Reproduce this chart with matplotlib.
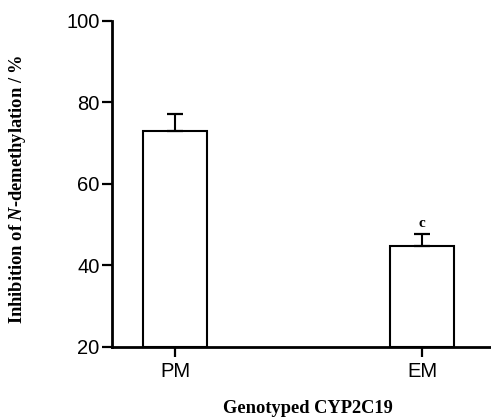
import numpy as np
import matplotlib.pyplot as plt

plt.rcParams["mathtext.fontset"] = "custom"
plt.rcParams["mathtext.it"] = "Liberation Serif:italic:bold"
plt.rcParams["mathtext.rm"] = "Liberation Serif:bold"

# genotype groups and mean inhibition (%)
groups = ["PM", "EM"]
means = [73.0, 44.8]
errs = [4.2, 2.8]
marks = ["", "c"]

fig = plt.figure(figsize=(4.91, 4.19), dpi=100)
ax = fig.add_axes([0.228, 0.172, 0.772, 0.778])

x = np.arange(len(groups))
ax.bar(x, np.array(means) - 20, bottom=20, width=0.26, color="white",
       edgecolor="black", linewidth=1.5)
ax.errorbar(x, means, yerr=[[0, 0], errs], fmt="none", ecolor="black",
            elinewidth=1.5, capsize=6, capthick=1.6)
for xi, m, e, t in zip(x, means, errs, marks):
    ax.text(xi, m + e + 1.2, t, ha="center", va="bottom",
            fontsize=11, family="Liberation Serif", fontweight="bold")

ax.set_xlim(-0.255, 1.279)
ax.set_ylim(20, 100)
ax.set_yticks([20, 40, 60, 80, 100])
ax.set_xticks(x)
ax.set_xticklabels(groups)
ax.spines["top"].set_visible(False)
ax.spines["right"].set_visible(False)
ax.spines["left"].set_linewidth(2)
ax.spines["bottom"].set_linewidth(2)
ax.tick_params(axis="y", width=1.6, length=7, labelsize=14.5, pad=2)
ax.tick_params(axis="x", width=1.6, length=7, labelsize=14.5, pad=4)
for lab in ax.get_xticklabels() + ax.get_yticklabels():
    lab.set_family("Liberation Sans")

ax.set_ylabel("Inhibition of $N$-demethylation / %", fontsize=13.3,
              family="Liberation Serif", fontweight="bold")
ax.yaxis.set_label_coords(-0.221, 0.485)
ax.set_xlabel("Genotyped CYP2C19", fontsize=13.3, family="Liberation Serif",
              fontweight="bold")
ax.xaxis.set_label_coords(0.517, -0.163)

plt.savefig("out.png", dpi=100)
